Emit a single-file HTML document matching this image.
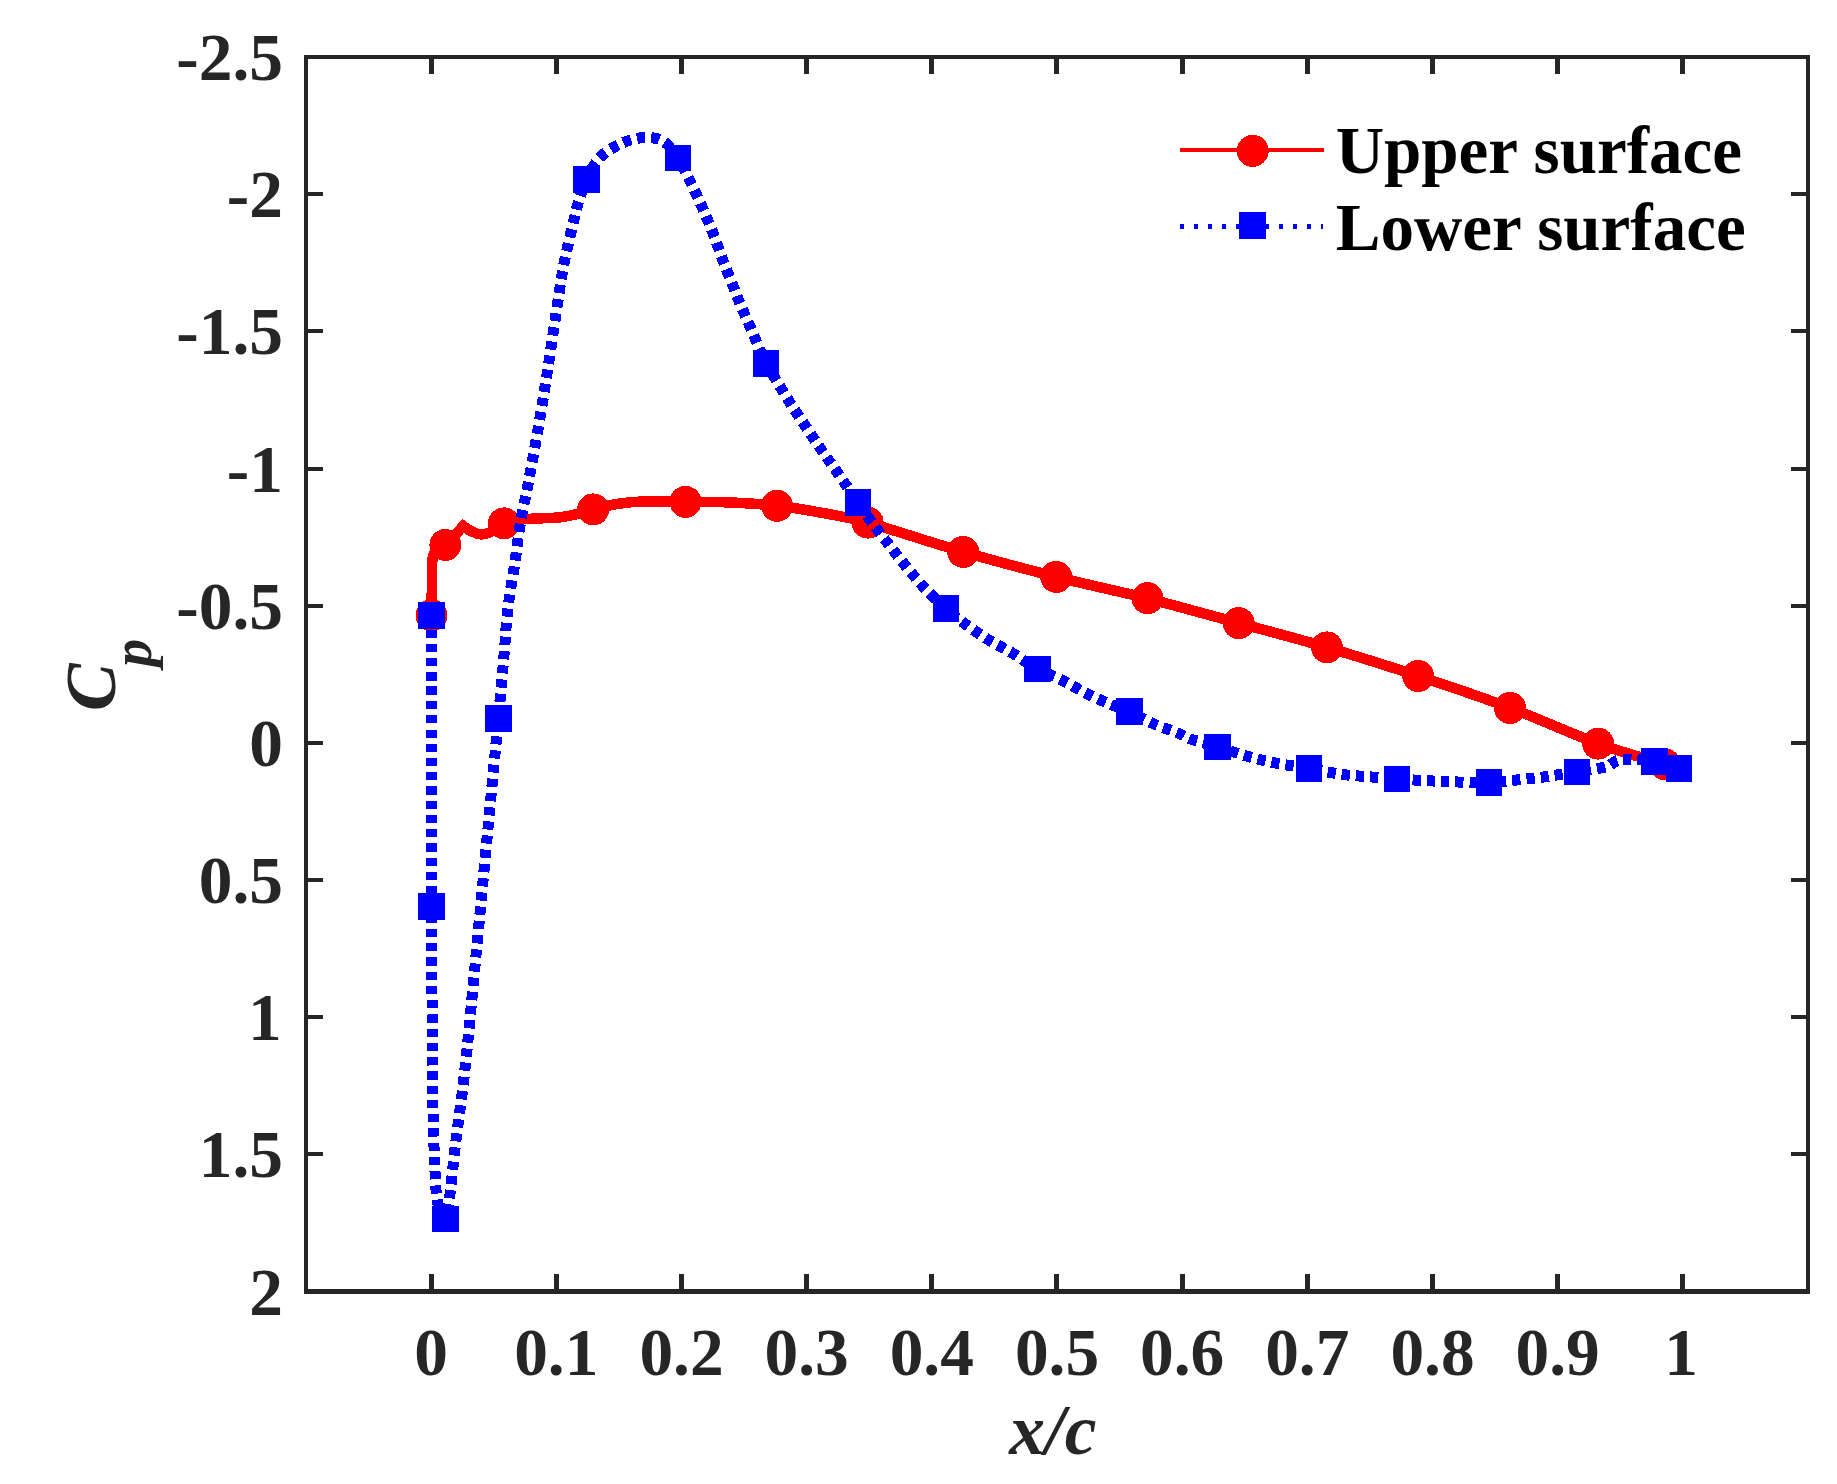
<!DOCTYPE html>
<html lang="en"><head><meta charset="utf-8"><title>Cp distribution</title>
<style>html,body{margin:0;padding:0;background:#fff;}body{width:1837px;height:1484px;overflow:hidden;}svg{display:block;}text{font-family:"Liberation Serif","Times New Roman",serif;font-weight:bold;}</style></head><body>
<svg width="1837" height="1484" viewBox="0 0 1837 1484">
<rect x="0" y="0" width="1837" height="1484" fill="#ffffff"/>
<g fill="none" stroke-linejoin="round" shape-rendering="crispEdges">
<path d="M431.50 615.30C431.55 611.08 431.72 597.88 431.80 590.00C431.88 582.12 431.80 573.67 432.00 568.00C432.20 562.33 432.17 559.17 433.00 556.00C433.83 552.83 434.93 550.83 437.00 549.00C439.07 547.17 441.02 548.85 445.40 545.00C449.78 541.15 460.32 529.08 463.30 525.90C464.00 526.42 465.98 528.02 467.50 529.00C469.02 529.98 470.42 530.93 472.40 531.80C474.38 532.67 477.38 533.83 479.40 534.20C481.42 534.57 482.73 534.32 484.50 534.00C486.27 533.68 487.92 533.22 490.00 532.30C492.08 531.38 494.67 530.00 497.00 528.50C499.33 527.00 500.17 524.80 504.00 523.30C507.83 521.80 514.87 520.28 520.00 519.50C525.13 518.72 528.13 518.97 534.80 518.60C541.47 518.23 552.97 518.07 560.00 517.30C567.03 516.53 571.47 515.32 577.00 514.00C582.53 512.68 586.60 511.07 593.20 509.40C599.80 507.73 608.65 505.30 616.60 504.00C624.55 502.70 629.42 501.95 640.90 501.60C652.38 501.25 670.90 501.77 685.50 501.90C700.10 502.03 713.25 501.75 728.50 502.40C743.75 503.05 761.75 504.12 777.00 505.80C792.25 507.48 804.88 509.70 820.00 512.50C835.12 515.30 843.83 516.03 867.70 522.60C891.57 529.17 931.78 542.85 963.20 551.90C994.62 560.95 1025.48 569.13 1056.20 576.90C1086.92 584.67 1117.08 590.80 1147.50 598.50C1177.92 606.20 1208.78 614.95 1238.70 623.10C1268.62 631.25 1297.08 638.58 1327.00 647.40C1356.92 656.22 1387.70 665.92 1418.20 676.00C1448.70 686.08 1480.02 696.63 1510.00 707.90C1539.98 719.17 1572.27 734.18 1598.10 743.60C1623.93 753.02 1653.85 760.93 1665.00 764.40" stroke="#ff0000" stroke-width="10.5" stroke-linecap="butt" stroke-linejoin="miter" stroke-miterlimit="6"/>
</g>
<g fill="#ff0000" shape-rendering="crispEdges">
<circle cx="431.5" cy="615.3" r="16.0"/>
<circle cx="445.4" cy="545.0" r="16.0"/>
<circle cx="504.0" cy="523.3" r="16.0"/>
<circle cx="593.2" cy="509.4" r="16.0"/>
<circle cx="685.5" cy="501.9" r="16.0"/>
<circle cx="777.0" cy="505.8" r="16.0"/>
<circle cx="867.7" cy="522.6" r="16.0"/>
<circle cx="963.2" cy="551.9" r="16.0"/>
<circle cx="1056.2" cy="576.9" r="16.0"/>
<circle cx="1147.5" cy="598.2" r="16.0"/>
<circle cx="1238.7" cy="623.1" r="16.0"/>
<circle cx="1327.0" cy="647.4" r="16.0"/>
<circle cx="1418.2" cy="676.0" r="16.0"/>
<circle cx="1510.0" cy="707.9" r="16.0"/>
<circle cx="1598.1" cy="743.6" r="16.0"/>
<circle cx="1665.0" cy="764.4" r="16.0"/>
</g>
<g fill="none" stroke-linejoin="round" shape-rendering="crispEdges">
<path d="M431.50 615.40C431.50 639.50 431.48 711.48 431.50 760.00C431.52 808.52 431.52 866.50 431.60 906.50C431.68 946.50 431.85 974.42 432.00 1000.00C432.15 1025.58 432.33 1041.67 432.50 1060.00C432.67 1078.33 432.67 1093.33 433.00 1110.00C433.33 1126.67 433.92 1145.83 434.50 1160.00C435.08 1174.17 435.58 1186.50 436.50 1195.00C437.42 1203.50 438.50 1207.02 440.00 1211.00C441.50 1214.98 444.58 1217.58 445.50 1218.90C446.13 1215.75 447.55 1213.15 449.30 1200.00C451.05 1186.85 453.47 1161.08 456.00 1140.00C458.53 1118.92 461.48 1100.93 464.50 1073.50C467.52 1046.07 469.60 1022.48 474.10 975.40C478.60 928.32 487.45 833.82 491.50 791.00C495.55 748.18 496.25 741.88 498.40 718.50C500.55 695.12 503.05 666.72 504.40 650.70C505.75 634.68 505.60 631.83 506.50 622.40C507.40 612.97 508.45 603.65 509.80 594.10C511.15 584.55 512.85 576.90 514.60 565.10C516.35 553.30 517.98 537.18 520.30 523.30C522.62 509.42 525.45 498.00 528.50 481.80C531.55 465.60 535.42 444.70 538.60 426.10C541.78 407.50 544.35 391.25 547.60 370.20C550.85 349.15 555.62 316.22 558.10 299.80C560.58 283.38 560.80 281.03 562.50 271.70C564.20 262.37 566.25 253.00 568.30 243.80C570.35 234.60 573.12 223.42 574.80 216.50C576.48 209.58 576.45 208.48 578.40 202.30C580.35 196.12 583.73 185.78 586.50 179.40C589.27 173.02 591.97 168.38 595.00 164.00C598.03 159.62 601.07 156.15 604.70 153.10C608.33 150.05 612.65 147.83 616.80 145.70C620.95 143.57 625.15 141.65 629.60 140.30C634.05 138.95 638.78 137.82 643.50 137.60C648.22 137.38 653.70 137.65 657.90 139.00C662.10 140.35 665.35 142.53 668.70 145.70C672.05 148.87 674.30 151.82 678.00 158.00C681.70 164.18 686.72 174.25 690.90 182.80C695.08 191.35 699.27 200.55 703.10 209.30C706.93 218.05 710.48 226.47 713.90 235.30C717.32 244.13 720.23 253.42 723.60 262.30C726.97 271.18 731.52 282.07 734.10 288.60C736.68 295.13 736.37 294.98 739.10 301.50C741.83 308.02 746.02 317.37 750.50 327.70C754.98 338.03 761.83 354.97 766.00 363.50C770.17 372.03 771.50 372.35 775.50 378.90C779.50 385.45 785.00 394.93 790.00 402.80C795.00 410.67 800.28 418.28 805.50 426.10C810.72 433.92 815.97 441.93 821.30 449.70C826.63 457.47 831.40 463.88 837.50 472.70C843.60 481.52 852.47 494.70 857.90 502.60C863.33 510.50 865.30 513.55 870.10 520.10C874.90 526.65 880.95 534.48 886.70 541.90C892.45 549.32 898.47 557.12 904.60 564.60C910.73 572.08 916.60 579.48 923.50 586.80C930.40 594.12 939.10 602.32 946.00 608.50C952.90 614.68 957.93 618.75 964.90 623.90C971.87 629.05 981.88 635.63 987.80 639.40C993.72 643.17 996.13 644.10 1000.40 646.50C1004.67 648.90 1007.20 650.07 1013.40 653.80C1019.60 657.53 1029.52 664.52 1037.60 668.90C1045.68 673.28 1053.72 675.98 1061.90 680.10C1070.08 684.22 1078.45 689.50 1086.70 693.60C1094.95 697.70 1104.27 701.73 1111.40 704.70C1118.53 707.67 1122.83 708.37 1129.50 711.40C1136.17 714.43 1143.37 719.30 1151.40 722.90C1159.43 726.50 1171.13 730.30 1177.70 733.00C1184.27 735.70 1184.17 736.78 1190.80 739.10C1197.43 741.42 1208.60 744.20 1217.50 746.90C1226.40 749.60 1235.10 752.72 1244.20 755.30C1253.30 757.88 1261.32 760.20 1272.10 762.40C1282.88 764.60 1297.38 766.52 1308.90 768.50C1320.42 770.48 1331.10 772.92 1341.20 774.30C1351.30 775.68 1360.22 776.02 1369.50 776.80C1378.78 777.58 1387.58 778.37 1396.90 779.00C1406.22 779.63 1415.93 780.12 1425.40 780.60C1434.87 781.08 1443.10 781.62 1453.70 781.90C1464.30 782.18 1479.57 782.52 1489.00 782.30C1498.43 782.08 1502.05 781.37 1510.30 780.60C1518.55 779.83 1531.50 778.53 1538.50 777.70C1545.50 776.87 1545.88 776.55 1552.30 775.60C1558.72 774.65 1570.08 773.07 1577.00 772.00C1583.92 770.93 1588.80 770.12 1593.80 769.20C1598.80 768.28 1603.80 767.53 1607.00 766.50C1610.20 765.47 1611.05 764.08 1613.00 763.00C1614.95 761.92 1615.38 760.58 1618.70 760.00C1622.02 759.42 1626.95 759.27 1632.90 759.50C1638.85 759.73 1646.72 759.90 1654.40 761.40C1662.08 762.90 1674.90 767.32 1679.00 768.50" stroke="#0000ff" stroke-width="11" stroke-dasharray="8.2 6.05" stroke-linecap="butt"/>
</g>
<g fill="#0000ff" shape-rendering="crispEdges">
<rect x="418.3" y="602.0" width="26.8" height="26.8"/>
<rect x="418.3" y="893.1" width="26.8" height="26.8"/>
<rect x="432.1" y="1205.5" width="26.8" height="26.8"/>
<rect x="485.0" y="705.1" width="26.8" height="26.8"/>
<rect x="573.1" y="166.0" width="26.8" height="26.8"/>
<rect x="664.6" y="144.6" width="26.8" height="26.8"/>
<rect x="752.6" y="350.1" width="26.8" height="26.8"/>
<rect x="844.5" y="489.2" width="26.8" height="26.8"/>
<rect x="932.6" y="595.1" width="26.8" height="26.8"/>
<rect x="1024.2" y="655.5" width="26.8" height="26.8"/>
<rect x="1116.1" y="698.0" width="26.8" height="26.8"/>
<rect x="1204.1" y="733.5" width="26.8" height="26.8"/>
<rect x="1295.5" y="755.1" width="26.8" height="26.8"/>
<rect x="1383.5" y="765.6" width="26.8" height="26.8"/>
<rect x="1475.6" y="768.9" width="26.8" height="26.8"/>
<rect x="1563.6" y="758.6" width="26.8" height="26.8"/>
<rect x="1641.0" y="748.0" width="26.8" height="26.8"/>
<rect x="1665.6" y="755.1" width="26.8" height="26.8"/>
</g>
<g stroke="#262626" stroke-width="4.0" fill="none" stroke-linecap="butt" shape-rendering="crispEdges">
<path d="M304 55H1810V1294H304ZM308 59V1289H1806V59Z" fill="#262626" fill-rule="evenodd" stroke="none"/>
<path d="M431.50 1291.60V1274.00M431.50 57.00V74.00M556.50 1291.60V1274.00M556.50 57.00V74.00M681.50 1291.60V1274.00M681.50 57.00V74.00M806.50 1291.60V1274.00M806.50 57.00V74.00M931.50 1291.60V1274.00M931.50 57.00V74.00M1056.50 1291.60V1274.00M1056.50 57.00V74.00M1182.50 1291.60V1274.00M1182.50 57.00V74.00M1307.50 1291.60V1274.00M1307.50 57.00V74.00M1432.50 1291.60V1274.00M1432.50 57.00V74.00M1557.50 1291.60V1274.00M1557.50 57.00V74.00M1682.50 1291.60V1274.00M1682.50 57.00V74.00" stroke-width="5"/>
<path d="M306.00 194.18H323.00M1808.00 194.18H1791.00M306.00 331.36H323.00M1808.00 331.36H1791.00M306.00 468.53H323.00M1808.00 468.53H1791.00M306.00 605.71H323.00M1808.00 605.71H1791.00M306.00 742.89H323.00M1808.00 742.89H1791.00M306.00 880.07H323.00M1808.00 880.07H1791.00M306.00 1017.24H323.00M1808.00 1017.24H1791.00M306.00 1154.42H323.00M1808.00 1154.42H1791.00"/>
</g>
<g fill="#262626" font-size="67.4px">
<g text-anchor="middle">
<text x="431.2" y="1374.6">0</text>
<text x="556.3" y="1374.6">0.1</text>
<text x="681.5" y="1374.6">0.2</text>
<text x="806.7" y="1374.6">0.3</text>
<text x="931.8" y="1374.6">0.4</text>
<text x="1057.0" y="1374.6">0.5</text>
<text x="1182.2" y="1374.6">0.6</text>
<text x="1307.3" y="1374.6">0.7</text>
<text x="1432.5" y="1374.6">0.8</text>
<text x="1557.7" y="1374.6">0.9</text>
<text x="1681.0" y="1374.6">1</text>
</g>
<g text-anchor="end">
<text x="283.0" y="80.0">-2.5</text>
<text x="283.0" y="217.2">-2</text>
<text x="283.0" y="354.4">-1.5</text>
<text x="283.0" y="491.5">-1</text>
<text x="283.0" y="628.7">-0.5</text>
<text x="283.0" y="765.9">0</text>
<text x="283.0" y="903.1">0.5</text>
<text x="281.6" y="1040.2">1</text>
<text x="283.0" y="1177.4">1.5</text>
<text x="283.0" y="1314.6">2</text>
</g>
</g>
<g fill="#262626" font-style="italic" font-size="71.5px">
<text x="1052.9" y="1454.4" text-anchor="middle">x/c</text>
<text transform="translate(115,711) rotate(-90)">C<tspan dx="-3.5" dy="36" font-size="56px">p</tspan></text>
</g>
<g shape-rendering="crispEdges">
<path d="M1180 150H1324" stroke="#ff0000" stroke-width="4.2" fill="none"/>
<circle cx="1252.7" cy="150.8" r="16" fill="#ff0000"/>
<path d="M1180 226.6H1322.5" stroke="#0000ff" stroke-width="4.8" stroke-dasharray="4 10.1" fill="none"/>
<rect x="1239.1" y="212.2" width="26.9" height="26.8" fill="#0000ff"/>
<g fill="#000000" font-size="67px">
<text x="1335.7" y="173.1">Upper surface</text>
<text x="1335.7" y="249.7">Lower surface</text>
</g>
</g>
</svg></body></html>
